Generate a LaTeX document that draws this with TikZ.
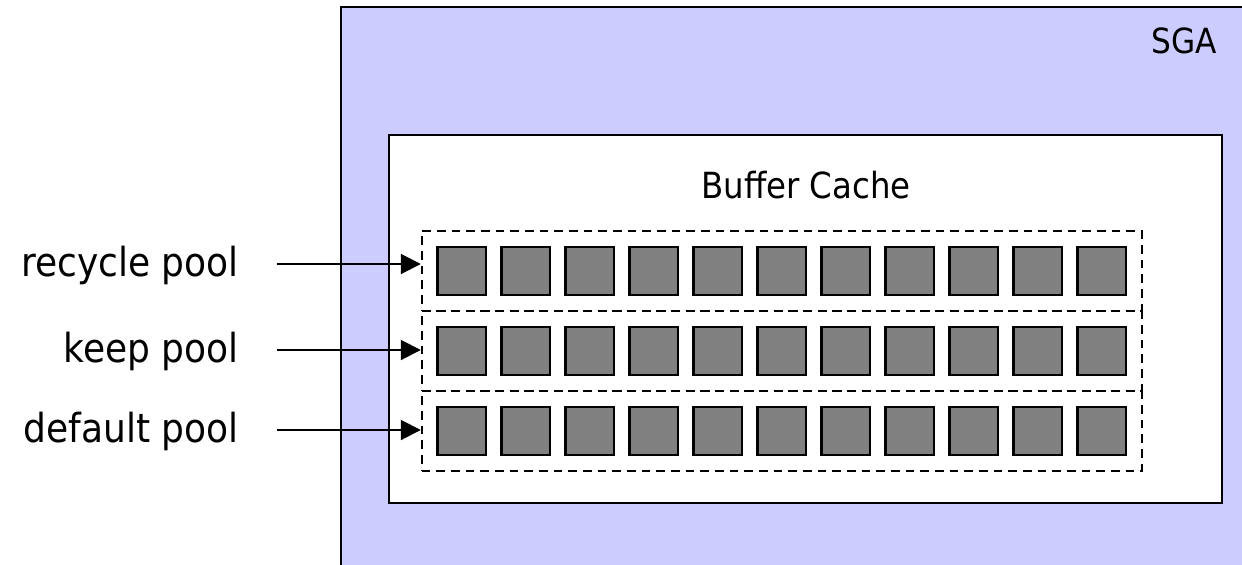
\documentclass[tikz,border=0pt]{standalone}
\usepackage{fontspec}
\setmainfont{DejaVu Sans Condensed}
\usetikzlibrary{arrows.meta}
\definecolor{sgafill}{RGB}{204,204,255}
\definecolor{blk}{RGB}{128,128,128}
\tikzset{
  px/.style={x=0.75pt,y=-0.75pt},
  sgabox/.style={draw=black,line width=1.8pt,fill=sgafill},
  cachebox/.style={draw=black,line width=1.8pt,fill=white},
  poolbox/.style={draw=black,line width=1.4pt,dash pattern=on 6.5pt off 4.5pt,inner sep=0pt,minimum width=540pt,minimum height=60pt},
  blockbox/.style={draw=black,line width=1.7pt,fill=blk,inner sep=0pt,minimum size=36.5pt},
  lbl/.style={font=\fontsize{30}{34}\selectfont,anchor=base east,inner sep=0pt},
  ttl/.style={inner sep=0pt},
  conn/.style={line width=1.5pt,-{Triangle[length=15pt,width=15pt]}}
}
\begin{document}
\begin{tikzpicture}[px]
\useasboundingbox (0,0) rectangle (1242,564);
\begin{scope}
\clip (0,0) rectangle (1242,564);
\draw[sgabox] (341,7) rectangle (1260,580);
\end{scope}
\node[ttl,font=\fontsize{26}{30}\selectfont,anchor=base east] (sga) at (1217,53) {SGA};
\draw[cachebox] (389,135) rectangle (1222,503);
\node[ttl,font=\fontsize{27}{31}\selectfont,anchor=base] (bc) at (806,198) {Buffer Cache};
\foreach \r/\y in {1/271,2/351,3/431}{
  \node[poolbox] (pool\r) at (781.7,\y) {};
  \foreach \c in {0,...,10}{
    \node[blockbox] (b\r-\c) at ({461.7+64*\c},\y) {};
  }
}
\node[lbl] (l1) at (239,276) {recycle pool};
\node[lbl] (l2) at (239,362) {keep pool};
\node[lbl] (l3) at (239,442) {default pool};
\coordinate (s1) at (277,264);
\coordinate (s2) at (277,350);
\coordinate (s3) at (277,430);
\draw[conn] (s1) -- (pool1.west |- s1);
\draw[conn] (s2) -- (pool2.west |- s2);
\draw[conn] (s3) -- (pool3.west |- s3);
\end{tikzpicture}
\end{document}
